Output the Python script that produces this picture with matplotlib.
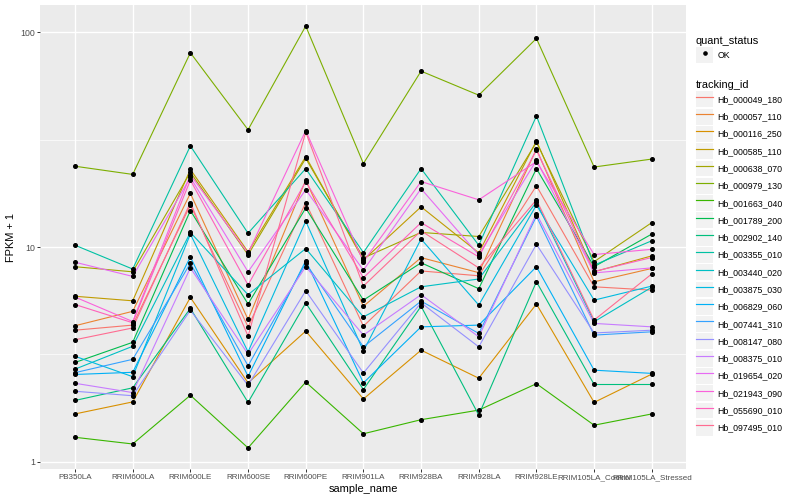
import matplotlib
matplotlib.use('Agg')  # no display
import matplotlib.pyplot as plt
from matplotlib.lines import Line2D
from matplotlib.patches import Patch
from matplotlib.legend_handler import HandlerTuple
import numpy as np

plt.rcParams['font.family'] = ['Liberation Sans', 'DejaVu Sans']

# samples on the x axis
samples = ['PB350LA', 'RRIM600LA', 'RRIM600LE', 'RRIM600SE', 'RRIM600PE',
           'RRIM901LA', 'RRIM928BA', 'RRIM928LA', 'RRIM928LE',
           'RRIM105LA_Control', 'RRIM105LA_Stressed']

# FPKM + 1 per tracking id
hb_000049_180 = [4.1, 4.33, 15.7, 4.25, 16.1, 4.28, 7.74, 7.35, 19.3, 6.53, 6.3]
hb_000057_110 = [4.3, 5.02, 17.8, 4.6, 20.5, 5.3, 8.93, 7.6, 28.6, 6.89, 7.95]
hb_000116_250 = [1.67, 1.9, 5.83, 2.33, 4.06, 1.96, 3.31, 2.45, 5.43, 1.89, 2.56]
hb_000585_110 = [5.9, 5.62, 23.0, 9.5, 26.4, 8.7, 15.4, 9.4, 31.2, 7.67, 9.1]
hb_000638_070 = [8.1, 7.67, 22.3, 9.2, 25.9, 8.9, 11.7, 11.2, 30.8, 8.55, 13.0]
hb_000979_130 = [23.8, 21.8, 80.4, 35.2, 107, 24.5, 66, 51, 93.7, 23.6, 25.7]
hb_001663_040 = [1.30, 1.21, 2.04, 1.16, 2.35, 1.35, 1.57, 1.74, 2.31, 1.48, 1.67]
hb_001789_200 = [2.9, 3.6, 14.8, 5.43, 15.2, 5.66, 8.45, 6.4, 23.2, 8.1, 11.5]
hb_002902_140 = [1.93, 2.21, 5.18, 1.89, 5.49, 2.17, 5.3, 1.65, 6.9, 2.29, 2.29]
hb_003355_010 = [10.2, 7.9, 29.6, 11.6, 23.2, 9.43, 23.2, 10.2, 40.8, 8.24, 10.7]
hb_003440_020 = [2.7, 3.45, 11.7, 6.0, 9.84, 4.73, 6.53, 7.1, 16.2, 4.49, 6.5]
hb_003875_030 = [3.1, 2.49, 11.5, 3.25, 13.2, 3.28, 10.9, 5.37, 15.7, 5.66, 6.58]
hb_006829_060 = [2.55, 2.61, 9.0, 2.5, 8.64, 2.33, 4.25, 4.33, 8.1, 2.67, 2.58]
hb_007441_310 = [2.6, 3.0, 8.4, 2.8, 8.4, 3.43, 5.6, 3.96, 13.9, 3.89, 4.03]
hb_008147_080 = [2.13, 2.03, 5.08, 2.27, 6.26, 2.59, 5.5, 3.43, 10.3, 3.98, 4.1]
hb_008375_010 = [2.32, 2.1, 8.0, 3.17, 8.1, 3.89, 6.0, 3.82, 14.3, 4.41, 4.25]
hb_019654_020 = [8.5, 7.3, 21.1, 7.67, 18.5, 7.8, 18.7, 9.2, 25.4, 7.58, 8.0]
hb_021943_090 = [5.85, 4.5, 21.7, 9.37, 34.9, 8.55, 20.2, 16.6, 25.0, 9.23, 9.76]
hb_055690_010 = [5.4, 4.44, 20.5, 6.66, 20.2, 7.2, 13.0, 9.0, 28.3, 7.7, 8.94]
hb_097495_010 = [3.7, 4.2, 16.1, 3.85, 34.3, 6.58, 11.9, 8.0, 16.6, 4.57, 7.5]

tracking_ids = ['Hb_000049_180', 'Hb_000057_110', 'Hb_000116_250', 'Hb_000585_110',
                'Hb_000638_070', 'Hb_000979_130', 'Hb_001663_040', 'Hb_001789_200',
                'Hb_002902_140', 'Hb_003355_010', 'Hb_003440_020', 'Hb_003875_030',
                'Hb_006829_060', 'Hb_007441_310', 'Hb_008147_080', 'Hb_008375_010',
                'Hb_019654_020', 'Hb_021943_090', 'Hb_055690_010', 'Hb_097495_010']
series = [hb_000049_180, hb_000057_110, hb_000116_250, hb_000585_110, hb_000638_070,
          hb_000979_130, hb_001663_040, hb_001789_200, hb_002902_140, hb_003355_010,
          hb_003440_020, hb_003875_030, hb_006829_060, hb_007441_310, hb_008147_080,
          hb_008375_010, hb_019654_020, hb_021943_090, hb_055690_010, hb_097495_010]

# ggplot default hue palette for 20 levels
colors = ['#F8766D', '#EA8331', '#D89000', '#C09B00', '#A3A500', '#7CAE00', '#39B600',
          '#00BB4E', '#00BF7D', '#00C1A3', '#00BFC4', '#00BAE0', '#00B0F6', '#35A2FF',
          '#9590FF', '#C77CFF', '#E76BF3', '#FA62DB', '#FF62BC', '#FF6C91']

fig = plt.figure(figsize=(8, 5), dpi=100)
ax = fig.add_axes([0.0505, 0.062, 0.8075, 0.928])
ax.set_facecolor('#EBEBEB')
for s in ax.spines.values():
    s.set_visible(False)

x = np.arange(len(samples))
for vals, c in zip(series, colors):
    ax.plot(x, vals, color=c, lw=0.8, zorder=3)
for vals in series:
    ax.plot(x, vals, ls='none', marker='o', ms=2.6, color='black', zorder=4)

ax.set_yscale('log')
allv = np.log10(np.concatenate([np.array(v, float) for v in series]))
lo, hi = allv.min(), allv.max()
pad = 0.05 * (hi - lo)
ax.set_ylim(10 ** (lo - pad), 10 ** (hi + pad))
ax.set_xlim(-0.6, len(samples) - 0.4)

ax.set_yticks([1, 10, 100])
ax.set_yticklabels(['1', '10', '100'])
ax.set_yticks([10 ** 0.5, 10 ** 1.5], minor=True)
ax.yaxis.set_minor_formatter(matplotlib.ticker.NullFormatter())
ax.set_xticks(x)
ax.set_xticklabels(samples)

ax.grid(True, which='major', color='white', lw=1.0, zorder=0)
ax.grid(True, which='minor', axis='y', color='white', lw=0.5, zorder=0)
ax.set_axisbelow(True)
ax.tick_params(which='major', length=2.0, width=0.7, color='#333333',
               labelsize=6.3, labelcolor='#4D4D4D', pad=1.6)
ax.tick_params(axis='x', which='major', labelsize=5.8)
ax.tick_params(which='minor', length=0)

ax.set_xlabel('sample_name', fontsize=7.9, labelpad=2)
ax.set_ylabel('FPKM + 1', fontsize=7.9, labelpad=3)

key_bg = dict(facecolor='#F2F2F2', edgecolor='none')
common = dict(loc='upper left', frameon=False, fontsize=6.3, title_fontsize=7.9,
              handler_map={tuple: HandlerTuple(ndivide=1, pad=0)},
              handlelength=1.97, handleheight=2.4, handletextpad=0.45,
              labelspacing=0.17, borderpad=0, borderaxespad=0, alignment='left')

qs_handles = [(Patch(**key_bg),
               Line2D([], [], ls='none', marker='o', ms=2.3, color='black'))]
fig.legend(qs_handles, ['OK'], title='quant_status',
           bbox_to_anchor=(696 / 800, 1 - 36 / 500), **common)

tid_handles = [(Patch(**key_bg), Line2D([], [], color=c, lw=0.85)) for c in colors]
fig.legend(tid_handles, tracking_ids, title='tracking_id',
           bbox_to_anchor=(696 / 800, 1 - 80 / 500), **common)

fig.savefig('out.png', dpi=100)
